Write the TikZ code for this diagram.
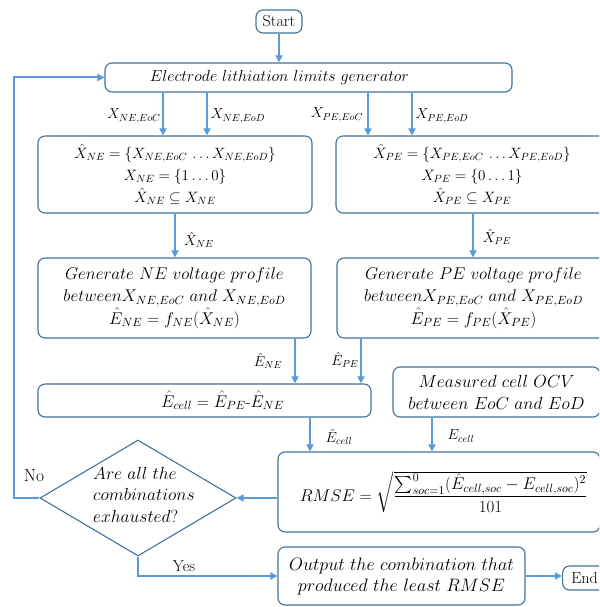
\RequirePackage{fix-cm}
\documentclass[tikz,border=0pt]{standalone}
\usepackage{amsmath,amssymb}
\usetikzlibrary{arrows.meta,shapes.geometric}
\definecolor{boxc}{RGB}{65,113,156}
\definecolor{arrc}{RGB}{91,155,213}
\newcommand{\fs}[2]{\fontsize{#1}{#2}\selectfont}
\begin{document}
\begin{tikzpicture}[x=1pt,y=-1pt,
  every node/.style={font=\fs{14.5}{21}},
  box/.style={draw=boxc, line width=1.1pt, rounded corners=7pt, inner sep=0pt, align=center, fill=white},
  txt/.style={font=\fs{17.5}{22}},
  upr/.style={font=\fs{16}{20}},
  arr/.style={draw=arrc, line width=2pt, -{Triangle[length=7pt,width=7pt]}},
  lab/.style={inner sep=0pt}]
\useasboundingbox (0,0) rectangle (599,607);
\clip (0,0) rectangle (599,607);

\node[box, upr, minimum width=46pt, minimum height=23pt] (start) at (279,21.5) {Start};
\node[box, font=\fs{16}{20}, minimum width=407pt, minimum height=29pt] (elg) at (308.5,77.5) {\hspace{-58pt}$Electrode\ lithiation\ limits\ generator$};

\node[box, font=\fs{15}{22}, minimum width=274pt, minimum height=77pt] (ne1) at (175,174.5)
 {$\hat{X}_{NE}=\{X_{NE,EoC}\,\dots X_{NE,EoD}\}$\\ $X_{NE}=\{1\dots0\}$\\ $\hat{X}_{NE}\subseteq X_{NE}$};
\node[box, font=\fs{15}{22}, minimum width=272pt, minimum height=77pt] (pe1) at (472,174.5)
 {$\hat{X}_{PE}=\{X_{PE,EoC}\,\dots X_{PE,EoD}\}$\\ $X_{PE}=\{0\dots1\}$\\ $\hat{X}_{PE}\subseteq X_{PE}$};

\node[box, font=\fs{17}{22.5}, minimum width=273pt, minimum height=80pt] (ne2) at (174.5,298)
 {$Generate\ NE\ voltage\ profile$\\ $between X_{NE,EoC}\ and\ X_{NE,EoD}$\\ $\hat{E}_{NE}=f_{NE}(\hat{X}_{NE})$};
\node[box, font=\fs{17}{22.5}, minimum width=273pt, minimum height=80pt] (pe2) at (473.5,298)
 {$Generate\ PE\ voltage\ profile$\\ $between X_{PE,EoC}\ and\ X_{PE,EoD}$\\ $\hat{E}_{PE}=f_{PE}(\hat{X}_{PE})$};

\node[box, font=\fs{17}{22}, minimum width=333pt, minimum height=33pt] (cell) at (204.5,400.5)
 {\hspace{36pt}$\hat{E}_{cell}=\hat{E}_{PE}\text{-}\hat{E}_{NE}$};
\node[box, txt, minimum width=207pt, minimum height=50pt] (ocv) at (496.5,392)
 {$Measured\ cell\ OCV$\hspace{21pt}\\ $between\ EoC\ and\ EoD$\hspace{16pt}};

\node[box, font=\fs{17}{20}, minimum width=322pt, minimum height=80pt] (rmse) at (439,492)
 {\hspace{9pt}$RMSE=\sqrt{\dfrac{\sum_{soc=1}^{0}(\hat{E}_{cell,soc}-E_{cell,soc})^2}{101}}$};

\node[diamond, draw=boxc, line width=1.1pt, minimum width=196pt, minimum height=116pt, inner sep=0pt] (dia) at (138,498) {};
\node[lab, font=\fs{17.5}{21.5}, align=left, anchor=west] (diatext) at (93,494.5) {$Are\ all\ the$\\ $combinations$\\ $exhausted?$};

\node[box, font=\fs{18}{21}, minimum width=247pt, minimum height=58pt] (out) at (401.5,576)
 {$Output\ the\ combination\ that$\hspace{8pt}\\ $produced\ the\ least\ RMSE$\hspace{8pt}};
\node[box, upr, minimum width=44pt, minimum height=24pt, anchor=west, align=left, inner xsep=5pt] (end) at (562,578) {End\hfill};

% labels
\node[lab] (l1) at (134,116) {$X_{NE,EoC}$};
\node[lab] (l2) at (238,116) {$X_{NE,EoD}$};
\node[lab] (l3) at (337,115) {$X_{PE,EoC}$};
\node[lab] (l4) at (442,116) {$X_{PE,EoD}$};
\node[lab] (l5) at (199,240) {$\hat{X}_{NE}$};
\node[lab] (l6) at (497,237) {$\hat{X}_{PE}$};
\node[lab] (l7) at (268,361) {$\hat{E}_{NE}$};
\node[lab] (l8) at (345,360) {$\hat{E}_{PE}$};
\node[lab] (l9) at (339,437) {$\hat{E}_{cell}$};
\node[lab] (l10) at (461,436) {$E_{cell}$};
\node[lab, font=\fs{17.5}{20}] (no) at (34,476) {No};
\node[lab, upr] (yes) at (184,566) {Yes};

% arrows
\draw[arr] (start.south) -- (elg.north -| start.south);
\draw[arr] (elg.south -| 163,0) -- (ne1.north -| 163,0);
\draw[arr] (elg.south -| 207,0) -- (ne1.north -| 207,0);
\draw[arr] (elg.south -| 368,0) -- (pe1.north -| 368,0);
\draw[arr] (elg.south -| 412,0) -- (pe1.north -| 412,0);
\draw[arr] (ne1.south -| 175,0) -- (ne2.north -| 175,0);
\draw[arr] (pe1.south -| 473,0) -- (pe2.north -| 473,0);
\draw[arr] (ne2.south -| 295,0) -- (cell.north -| 295,0);
\draw[arr] (pe2.south -| 361,0) -- (cell.north -| 361,0);
\draw[arr] (cell.south -| 310,0) -- (rmse.north -| 310,0);
\draw[arr] (ocv.south -| 432,0) -- (rmse.north -| 432,0);
\draw[arr] (rmse.west |- dia.east) -- (dia.east);
\coordinate (c1) at (14,498);
\coordinate (c2) at (14,77.5);
\draw[arr] (dia.west) -- (c1) -- (c2) -- (elg.west);
\draw[arr] (dia.south) -- (dia.south |- out.west) -- (out.west);
\draw[arr] (out.east) -- (out.east -| end.west);
\end{tikzpicture}
\end{document}
